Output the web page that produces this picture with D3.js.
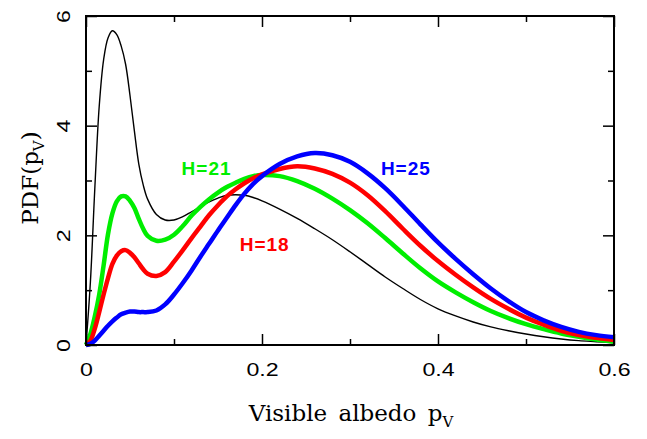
<!DOCTYPE html>
<html>
<head>
<meta charset="utf-8">
<script src="https://cdn.jsdelivr.net/npm/d3@7"></script>
<style>
body {margin:0; background:#fff;}
svg {display:block;}
</style>
</head>
<body>
<script>
// albedo grid shared by every curve
var albedo = [0, 0.005, 0.01, 0.015, 0.02, 0.025, 0.03, 0.035, 0.04, 0.045, 0.05, 0.055, 0.06, 0.065,
              0.07, 0.08, 0.09, 0.10, 0.11, 0.12, 0.13, 0.14, 0.15, 0.16, 0.17, 0.18, 0.19, 0.20,
              0.22, 0.24, 0.26, 0.28, 0.30, 0.32, 0.34, 0.36, 0.38, 0.40, 0.42, 0.44, 0.46, 0.48,
              0.50, 0.52, 0.54, 0.56, 0.58, 0.60];

// thin black curve (no label)
var pdfAll = [0, 1.15, 2.85, 4.35, 5.2, 5.6, 5.73, 5.66, 5.45, 5.12, 4.55, 3.9, 3.3, 2.92,
              2.66, 2.38, 2.28, 2.28, 2.34, 2.43, 2.52, 2.61, 2.68, 2.73, 2.74, 2.73, 2.69, 2.63,
              2.48, 2.31, 2.12, 1.92, 1.70, 1.47, 1.24, 1.03, 0.83, 0.66, 0.53, 0.42, 0.33, 0.26,
              0.20, 0.15, 0.11, 0.08, 0.06, 0.04];

var pdfH21 = [0, 0.2, 0.52, 0.92, 1.45, 2.02, 2.40, 2.62, 2.71, 2.71, 2.63, 2.50, 2.30, 2.12,
              1.99, 1.90, 1.92, 2.01, 2.17, 2.36, 2.52, 2.66, 2.78, 2.88, 2.96, 3.03, 3.08, 3.10,
              3.08, 2.99, 2.85, 2.67, 2.46, 2.22, 1.95, 1.67, 1.40, 1.16, 0.96, 0.78, 0.62, 0.49,
              0.38, 0.29, 0.21, 0.15, 0.10, 0.06];

var pdfH18 = [0, 0.08, 0.30, 0.60, 0.92, 1.22, 1.48, 1.63, 1.71, 1.73, 1.68, 1.60, 1.49, 1.38,
              1.30, 1.26, 1.33, 1.52, 1.73, 1.95, 2.16, 2.37, 2.55, 2.71, 2.84, 2.95, 3.04, 3.11,
              3.21, 3.26, 3.22, 3.12, 2.96, 2.73, 2.44, 2.12, 1.81, 1.53, 1.28, 1.05, 0.84, 0.66,
              0.50, 0.37, 0.26, 0.18, 0.13, 0.09];

var pdfH25 = [0, 0.02, 0.08, 0.17, 0.26, 0.35, 0.43, 0.50, 0.56, 0.59, 0.61, 0.61, 0.60, 0.60,
              0.60, 0.63, 0.74, 0.92, 1.13, 1.36, 1.61, 1.85, 2.09, 2.32, 2.55, 2.76, 2.94, 3.08,
              3.30, 3.44, 3.50, 3.46, 3.34, 3.13, 2.86, 2.54, 2.20, 1.87, 1.57, 1.29, 1.03, 0.80,
              0.60, 0.45, 0.33, 0.24, 0.18, 0.14];

var xTicks = [0, 0.2, 0.4, 0.6];
var xMinor = [0.1, 0.3, 0.5];
var yTicks = [0, 2, 4, 6];
var yMinor = [1, 3, 5];
var curveNames = ["", "H=21", "H=18", "H=25"];

var drawChart = function(width, height)
{
    var margins = {top:16, bottom:94, left:86, right:33};
    var graph = {
        width: width - margins.left - margins.right,
        height: height - margins.top - margins.bottom
    };

    var x = d3.scaleLinear().domain([0, 0.6]).range([0, graph.width]);
    var y = d3.scaleLinear().domain([0, 6]).range([graph.height, 0]);

    var svg = d3.select("body").append("svg")
        .attr("width", width)
        .attr("height", height);

    var g = svg.append("g")
        .attr("transform", "translate(" + margins.left + "," + margins.top + ")");

    var series = [
        {name: curveNames[0], values: pdfAll, color: "#000000", w: 1.4},
        {name: curveNames[1], values: pdfH21, color: "#00ee00", w: 4.5},
        {name: curveNames[2], values: pdfH18, color: "#ff0000", w: 4.5},
        {name: curveNames[3], values: pdfH25, color: "#0000ff", w: 4.5}
    ];

    var line = d3.line()
        .x(function(d, i){ return x(albedo[i]); })
        .y(function(d){ return y(d); })
        .curve(d3.curveCatmullRom.alpha(0.5));

    var plot = g.append("g");
    plot.selectAll(".curve")
        .data(series)
        .enter()
        .append("path")
        .attr("fill", "none")
        .attr("stroke", function(s){ return s.color; })
        .attr("stroke-width", function(s){ return s.w; })
        .attr("stroke-linejoin", "round")
        .attr("d", function(s){ return line(s.values); });

    // axes: ticks point inward on all four sides
    var styleAxis = function(sel) {
        sel.select(".domain").remove();
        sel.selectAll("line").attr("stroke", "#000").attr("stroke-width", 1.5);
    };
    var majorLen = 11, minorLen = 6;

    g.append("g")
        .attr("transform", "translate(0," + graph.height + ")")
        .call(d3.axisBottom(x).tickValues(xTicks).tickSize(-majorLen).tickPadding(18)
              .tickFormat(function(d){ return d; }))
        .call(styleAxis)
        .selectAll("text")
            .attr("transform", "scale(1.22,1)")
            .attr("fill", "#000")
            .style("font-family", "'Liberation Sans', Arial, sans-serif")
            .style("font-size", "19px");
    g.append("g")
        .attr("transform", "translate(0," + graph.height + ")")
        .call(d3.axisBottom(x).tickValues(xMinor).tickSize(-minorLen).tickFormat(""))
        .call(styleAxis);
    g.append("g")
        .call(d3.axisTop(x).tickValues(xTicks).tickSize(-majorLen).tickFormat(""))
        .call(styleAxis);
    g.append("g")
        .call(d3.axisTop(x).tickValues(xMinor).tickSize(-minorLen).tickFormat(""))
        .call(styleAxis);

    g.append("g")
        .call(d3.axisLeft(y).tickValues(yTicks).tickSize(-majorLen).tickFormat(function(d){ return d; }))
        .call(styleAxis)
        .selectAll("text")
            .attr("transform", "rotate(-90) scale(1.22,1)")
            .attr("x", 0)
            .attr("y", -16)
            .attr("dy", 0)
            .attr("text-anchor", "middle")
            .attr("fill", "#000")
            .style("font-family", "'Liberation Sans', Arial, sans-serif")
            .style("font-size", "19px");
    g.append("g")
        .call(d3.axisLeft(y).tickValues(yMinor).tickSize(-minorLen).tickFormat(""))
        .call(styleAxis);
    g.append("g")
        .attr("transform", "translate(" + graph.width + ",0)")
        .call(d3.axisRight(y).tickValues(yTicks).tickSize(-majorLen).tickFormat(""))
        .call(styleAxis);
    g.append("g")
        .attr("transform", "translate(" + graph.width + ",0)")
        .call(d3.axisRight(y).tickValues(yMinor).tickSize(-minorLen).tickFormat(""))
        .call(styleAxis);

    // frame
    g.append("rect")
        .attr("width", graph.width)
        .attr("height", graph.height)
        .attr("fill", "none")
        .attr("stroke", "#000")
        .attr("stroke-width", 2);

    // curve labels
    var labelAt = [null, [0.137, 3.10], [0.203, 1.72], [0.3635, 3.10]];
    series.forEach(function(s, i){
        if (!s.name) return;
        g.append("text")
            .attr("x", x(labelAt[i][0]))
            .attr("y", y(labelAt[i][1]))
            .attr("text-anchor", "middle")
            .attr("fill", s.color)
            .style("font-family", "'Liberation Sans', Arial, sans-serif")
            .style("font-weight", "bold")
            .style("font-size", "19px")
            .style("letter-spacing", "1px")
            .text(s.name);
    });

    // axis titles
    var xt = svg.append("text")
        .attr("x", margins.left + graph.width / 2 + 1)
        .attr("y", 421)
        .attr("text-anchor", "middle")
        .style("font-family", "'DejaVu Serif', serif")
        .style("font-size", "23px")
        .style("word-spacing", "4px");
    xt.append("tspan").text("Visible albedo p");
    xt.append("tspan").attr("dy", 6).style("font-size", "15px").text("V");

    var yt = svg.append("text")
        .attr("transform", "translate(38," + 178 + ") rotate(-90)")
        .attr("text-anchor", "middle")
        .style("font-family", "'DejaVu Serif', serif")
        .style("font-size", "23px");
    yt.append("tspan").text("PDF(p");
    yt.append("tspan").attr("dy", 6).style("font-size", "15px").text("V");
    yt.append("tspan").attr("dy", -6).text(")");
};

drawChart(647, 439);
</script>
</body>
</html>
